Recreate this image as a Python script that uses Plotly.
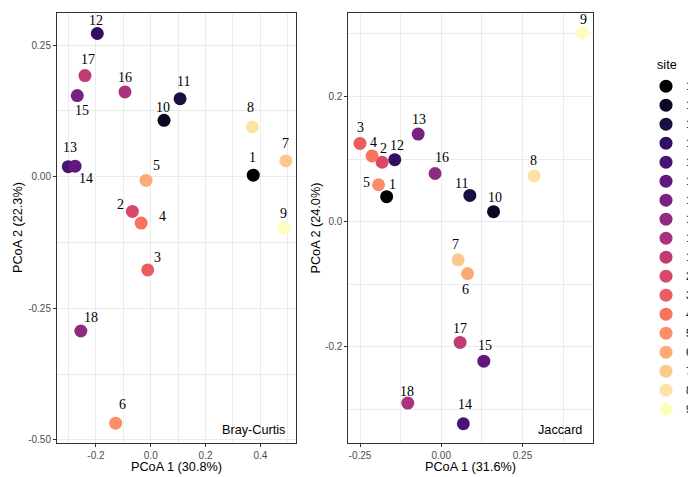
import plotly.graph_objects as go

# ---------------- data ----------------
labels = ["1", "2", "3", "4", "5", "6", "7", "8", "9", "10", "11", "12", "13", "14", "15", "16", "17", "18"]
legend_levels = ["1", "10", "11", "12", "13", "14", "15", "16", "17", "18", "2", "3", "4", "5", "6", "7", "8", "9"]

# Bray-Curtis PCoA
bc_x = [0.374, -0.067, -0.011, -0.035, -0.017, -0.128, 0.493, 0.371, 0.487, 0.0485, 0.107, -0.195, -0.301, -0.276, -0.268, -0.094, -0.240, -0.255]
bc_y = [0.003, -0.066, -0.177, -0.088, -0.007, -0.468, 0.030, 0.0945, -0.098, 0.107, 0.148, 0.272, 0.019, 0.020, 0.154, 0.161, 0.192, -0.293]
bc_colour = ["1", "2", "3", "4", "6", "5", "7", "8", "9", "10", "11", "12", "13", "14", "15", "17", "18", "16"]

# Jaccard PCoA
jac_x = [-0.168, -0.182, -0.250, -0.213, -0.193, 0.081, 0.052, 0.286, 0.434, 0.161, 0.088, -0.143, -0.071, 0.068, 0.131, -0.019, 0.058, -0.103]
jac_y = [0.040, 0.095, 0.125, 0.105, 0.059, -0.083, -0.061, 0.073, 0.302, 0.016, 0.042, 0.099, 0.140, -0.323, -0.223, 0.077, -0.193, -0.290]
jac_colour = ["1", "2", "3", "4", "5", "6", "7", "8", "9", "10", "11", "12", "15", "13", "14", "16", "18", "17"]

# tick labels
bc_xticks = [-0.2, 0.0, 0.2, 0.4]
bc_xtext = ["-0.2", "0.0", "0.2", "0.4"]
bc_yticks = [0.25, 0.0, -0.25, -0.50]
bc_ytext = ["0.25", "0.00", "-0.25", "-0.50"]
jac_xticks = [-0.25, 0.0, 0.25]
jac_xtext = ["-0.25", "0.00", "0.25"]
jac_yticks = [0.2, 0.0, -0.2]
jac_ytext = ["0.2", "0.0", "-0.2"]

# ---------------- styles ----------------
# figure is wider than the 688px window so the legend labels run off its right edge (as in the reference)
W, H = 740, 477
MAGMA_STOPS = [(0, 0, 4), (20, 14, 54), (59, 15, 112), (100, 26, 128), (140, 41, 129), (183, 55, 121),
               (222, 73, 104), (247, 112, 92), (254, 159, 109), (254, 207, 146), (252, 253, 191)]


def magma(t):
    p = t * (len(MAGMA_STOPS) - 1)
    i = min(int(p), len(MAGMA_STOPS) - 2)
    f = p - i
    a, b = MAGMA_STOPS[i], MAGMA_STOPS[i + 1]
    return "rgb(%d,%d,%d)" % tuple(round(a[k] + (b[k] - a[k]) * f) for k in range(3))


level_colour = {lv: magma(i / (len(legend_levels) - 1)) for i, lv in enumerate(legend_levels)}

# label pixel offsets (dx right, dy down)
bc_off = [(-1, -18), (-12, -7), (10, -12), (21, -7), (10, -15), (7, -19), (0, -17), (-2, -19), (-1, -15),
          (-1, -13), (3, -17), (-1, -13), (2, -19), (11, 12), (5, 15), (0, -14), (3, -16), (10, -13)]
jac_off = [(6, -12), (1, -14), (0, -16), (1, -13), (-12, -2), (-2, 16), (-3, -15), (-1, -15), (1, -13),
           (1, -14), (-8, -12), (2, -14), (1, -15), (2, -19), (1, -16), (7, -16), (0, -14), (-1, -12)]

SANS = "Liberation Sans, Arial, sans-serif"
SERIF = "Liberation Serif, Times New Roman, serif"
GRID = "#EBEBEB"
BORDER = "#333333"
MS = 13

fig = go.Figure()

for lv in legend_levels:
    i = bc_colour.index(lv)
    fig.add_trace(go.Scatter(x=[bc_x[i]], y=[bc_y[i]], mode="markers", name=lv, xaxis="x", yaxis="y",
                             marker=dict(size=MS, color=level_colour[lv], line=dict(width=0)),
                             showlegend=True, hoverinfo="skip"))
for lv in legend_levels:
    i = jac_colour.index(lv)
    fig.add_trace(go.Scatter(x=[jac_x[i]], y=[jac_y[i]], mode="markers", name=lv, xaxis="x2", yaxis="y2",
                             marker=dict(size=MS, color=level_colour[lv], line=dict(width=0)),
                             showlegend=False, hoverinfo="skip"))

ann = []
for xs, ys, off, xr, yr in [(bc_x, bc_y, bc_off, "x", "y"), (jac_x, jac_y, jac_off, "x2", "y2")]:
    for lab, xv, yv, (dx, dy) in zip(labels, xs, ys, off):
        ann.append(dict(x=xv, y=yv, xref=xr, yref=yr, text=lab, showarrow=False,
                        xshift=dx, yshift=-dy, font=dict(family=SERIF, size=14, color="black")))

ann.append(dict(x=1, y=0, xref="x domain", yref="y domain", text="Bray-Curtis", showarrow=False,
                xanchor="right", yanchor="bottom", xshift=-9, yshift=4,
                font=dict(family=SANS, size=12.7, color="black")))
ann.append(dict(x=1, y=0, xref="x2 domain", yref="y2 domain", text="Jaccard", showarrow=False,
                xanchor="right", yanchor="bottom", xshift=-9, yshift=4,
                font=dict(family=SANS, size=12.7, color="black")))


def px(x):
    return x / W


def py(y):
    return 1 - y / H


L1, R1, L2, R2, T, B = 57, 296, 348.3, 593, 13, 445

for text, xc in [("PCoA 1 (30.8%)", (L1 + R1) / 2), ("PCoA 1 (31.6%)", (L2 + R2) / 2)]:
    ann.append(dict(x=px(xc), y=py(469), xref="paper", yref="paper", text=text, showarrow=False,
                    xanchor="center", yanchor="middle", font=dict(family=SANS, size=12.7, color="black")))
for text, xc in [("PCoA 2 (22.3%)", 18), ("PCoA 2 (24.0%)", 316.5)]:
    ann.append(dict(x=px(xc), y=py((T + B) / 2), xref="paper", yref="paper", text=text, showarrow=False,
                    textangle=-90, xanchor="center", yanchor="middle",
                    font=dict(family=SANS, size=12.7, color="black")))

# legend title drawn as text so it can sit over the keys like ggplot's
ann.append(dict(x=px(655), y=py(65), xref="paper", yref="paper", text="site", showarrow=False,
                xanchor="left", yanchor="middle", font=dict(family=SANS, size=12.7, color="black")))

axis_common = dict(showgrid=True, gridcolor=GRID, gridwidth=1, zeroline=False, showline=True,
                   linecolor=BORDER, linewidth=1, mirror=True, ticks="outside", ticklen=3,
                   tickcolor=BORDER, tickwidth=1, tickfont=dict(family=SANS, size=10, color="#4D4D4D"),
                   tickmode="array")

fig.update_layout(
    width=W, height=H,
    margin=dict(l=0, r=0, t=0, b=0),
    paper_bgcolor="white", plot_bgcolor="white",
    xaxis=dict(domain=[px(L1), px(R1)], range=[-0.342, 0.530], tickvals=bc_xticks, ticktext=bc_xtext,
               minor=dict(showgrid=True, gridcolor=GRID, gridwidth=0.6, tick0=-0.1, dtick=0.2),
               anchor="y", **axis_common),
    yaxis=dict(domain=[py(B), py(T)], range=[-0.506, 0.311], tickvals=bc_yticks, ticktext=bc_ytext,
               minor=dict(showgrid=True, gridcolor=GRID, gridwidth=0.6, tick0=0.125, dtick=0.25),
               anchor="x", **axis_common),
    xaxis2=dict(domain=[px(L2), px(R2)], range=[-0.286, 0.467], tickvals=jac_xticks, ticktext=jac_xtext,
                minor=dict(showgrid=True, gridcolor=GRID, gridwidth=0.6, tick0=0.125, dtick=0.25),
                anchor="y2", **axis_common),
    yaxis2=dict(domain=[py(B), py(T)], range=[-0.354, 0.3336], tickvals=jac_yticks, ticktext=jac_ytext,
                minor=dict(showgrid=True, gridcolor=GRID, gridwidth=0.6, tick0=0.1, dtick=0.2),
                anchor="x2", **axis_common),
    legend=dict(x=px(646), xanchor="left", y=py(72), yanchor="top", bgcolor="rgba(0,0,0,0)",
                font=dict(family=SANS, size=10, color="black"), tracegroupgap=0),
    annotations=ann,
    showlegend=True,
)

fig.write_html("out.html", config={"displayModeBar": False},
               post_script="document.body.style.margin='0';document.body.style.overflow='hidden';")
